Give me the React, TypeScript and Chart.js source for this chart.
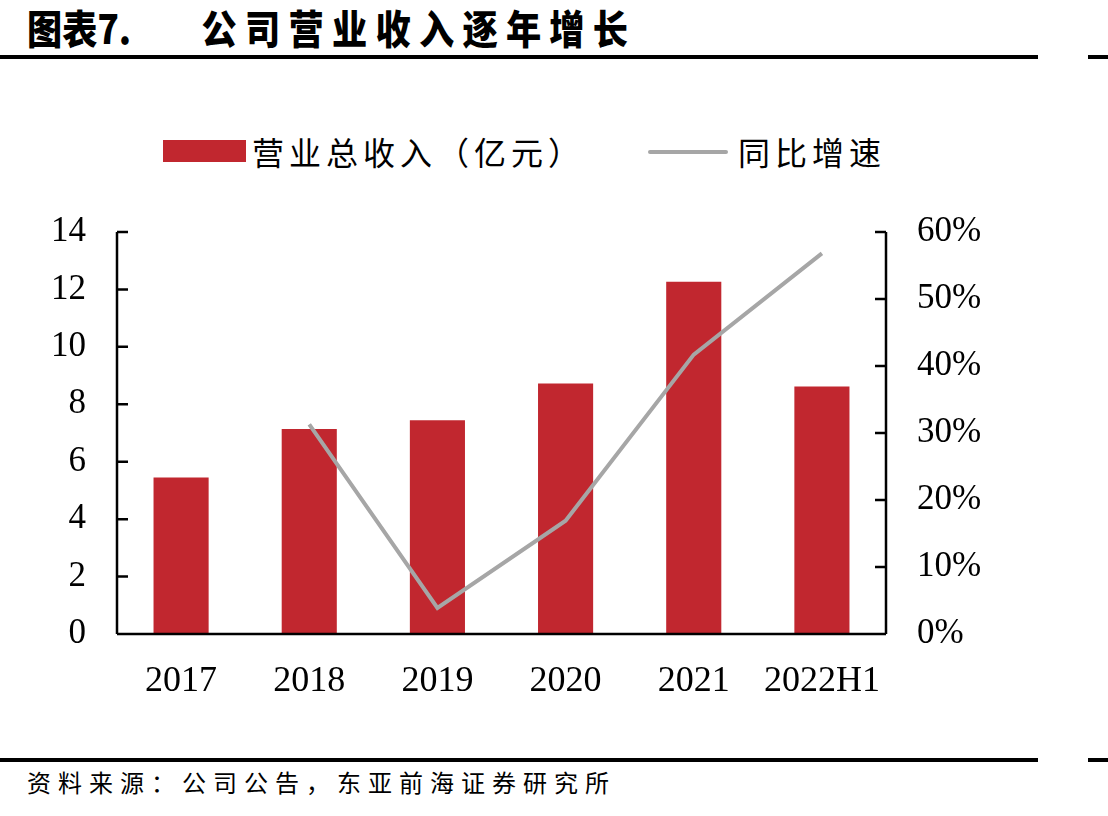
import React, { useEffect, useRef } from "react";
import { Chart, registerables } from "chart.js";

Chart.register(...registerables);

// Revenue (亿元) by period and its year-on-year growth (%)
const categories = ["2017", "2018", "2019", "2020", "2021", "2022H1"];
const revenue = [5.45, 7.14, 7.44, 8.72, 12.27, 8.62];
const growth = [null, 31.3, 3.9, 16.9, 41.7, 56.8];
const leftTicks = [0, 2, 4, 6, 8, 10, 12, 14];
const rightTicks = [0, 10, 20, 30, 40, 50, 60];

const BAR_RED = "#C1272F";
const LINE_GREY = "#A6A6A6";
const SERIF = "'Liberation Serif', 'DejaVu Serif', serif";
const CJK = "'Noto Sans CJK SC', 'Noto Sans', sans-serif";

// Axis lines with short inward ticks, drawn above the bars
const axisPlugin = {
  id: "innerAxes",
  afterDatasetsDraw(chart: any) {
    const { ctx, chartArea } = chart;
    const y = chart.scales.y;
    const y1 = chart.scales.y1;
    const tick = 11;
    ctx.save();
    ctx.strokeStyle = "#000";
    ctx.lineWidth = 2.5;
    ctx.lineCap = "butt";
    ctx.beginPath();
    // left axis
    ctx.moveTo(chartArea.left, chartArea.top);
    ctx.lineTo(chartArea.left, chartArea.bottom);
    // bottom axis
    ctx.moveTo(chartArea.left, chartArea.bottom);
    ctx.lineTo(chartArea.right, chartArea.bottom);
    // right axis
    ctx.moveTo(chartArea.right, chartArea.top);
    ctx.lineTo(chartArea.right, chartArea.bottom);
    leftTicks.forEach((v) => {
      const py = y.getPixelForValue(v);
      ctx.moveTo(chartArea.left, py);
      ctx.lineTo(chartArea.left + tick, py);
    });
    rightTicks.forEach((v) => {
      const py = y1.getPixelForValue(v);
      ctx.moveTo(chartArea.right, py);
      ctx.lineTo(chartArea.right - tick, py);
    });
    ctx.stroke();
    ctx.restore();
  },
};

function RevenueChart() {
  const ref = useRef<HTMLCanvasElement | null>(null);

  useEffect(() => {
    if (!ref.current) return;
    const chart = new Chart(ref.current, {
      data: {
        labels: categories,
        datasets: [
          {
            type: "line",
            label: "同比增速",
            data: growth,
            yAxisID: "y1",
            borderColor: LINE_GREY,
            borderWidth: 4,
            pointRadius: 0,
            tension: 0,
            spanGaps: false,
            order: 0,
          } as any,
          {
            type: "bar",
            label: "营业总收入（亿元）",
            data: revenue,
            yAxisID: "y",
            backgroundColor: BAR_RED,
            borderWidth: 0,
            barPercentage: 0.86,
            categoryPercentage: 0.5,
            order: 1,
          } as any,
        ],
      },
      options: {
        animation: false,
        responsive: false,
        maintainAspectRatio: false,
        layout: { padding: { top: 0, left: 0, right: 0, bottom: 0 } },
        plugins: {
          legend: { display: false },
          tooltip: { enabled: false },
        },
        scales: {
          x: {
            grid: { display: false, drawTicks: false },
            border: { display: false },
            ticks: {
              color: "#000",
              font: { family: SERIF, size: 36 },
              padding: 26,
              maxRotation: 0,
              autoSkip: false,
            },
            afterFit(scale: any) {
              scale.height = 86;
            },
          },
          y: {
            position: "left",
            min: 0,
            max: 14,
            grid: { display: false, drawTicks: false },
            border: { display: false },
            afterBuildTicks(scale: any) {
              scale.ticks = leftTicks.map((v) => ({ value: v }));
            },
            ticks: {
              color: "#000",
              font: { family: SERIF, size: 35 },
              padding: 31,
            },
            afterFit(scale: any) {
              scale.width = 117;
            },
          },
          y1: {
            position: "right",
            min: 0,
            max: 60,
            grid: { display: false, drawTicks: false },
            border: { display: false },
            afterBuildTicks(scale: any) {
              scale.ticks = rightTicks.map((v) => ({ value: v }));
            },
            ticks: {
              color: "#000",
              font: { family: SERIF, size: 35 },
              padding: 31,
              callback: (v: any) => `${v}%`,
            },
            afterFit(scale: any) {
              scale.width = 222;
            },
          },
        },
      } as any,
      plugins: [axisPlugin],
    });
    return () => chart.destroy();
  }, []);

  return (
    <canvas
      ref={ref}
      width={1108}
      height={540}
      style={{ position: "absolute", left: 0, top: 180, width: 1108, height: 540 }}
    />
  );
}

export default function App() {
  return (
    <div
      style={{
        position: "absolute",
        left: 0,
        top: 0,
        width: 1108,
        height: 816,
        background: "#fff",
        overflow: "hidden",
      }}
    >
      {/* Title */}
      <div
        style={{
          position: "absolute",
          left: 27,
          top: 2,
          fontFamily: CJK,
          fontWeight: 900,
          fontSize: 40,
          lineHeight: "50px",
          color: "#000",
          whiteSpace: "pre",
          transform: "scaleX(0.88)",
          transformOrigin: "left center",
        }}
      >
        <span>图表7.</span>
        <span style={{ marginLeft: 80, letterSpacing: 9.4 }}>公司营业收入逐年增长</span>
      </div>
      <div style={{ position: "absolute", left: 0, top: 55, width: 1038, height: 4, background: "#000" }} />
      <div style={{ position: "absolute", left: 1088, top: 55, width: 20, height: 4, background: "#000" }} />

      {/* Legend */}
      <div style={{ position: "absolute", left: 163, top: 140, width: 83, height: 22, background: BAR_RED }} />
      <div
        style={{
          position: "absolute",
          left: 252,
          top: 131,
          fontFamily: CJK,
          fontSize: 32,
          lineHeight: "40px",
          letterSpacing: 5,
          color: "#000",
          whiteSpace: "pre",
        }}
      >
        营业总收入（亿元）
      </div>
      <div
        style={{
          position: "absolute",
          left: 648,
          top: 150,
          width: 80,
          height: 4,
          borderRadius: 2,
          background: LINE_GREY,
        }}
      />
      <div
        style={{
          position: "absolute",
          left: 738,
          top: 131,
          fontFamily: CJK,
          fontSize: 32,
          lineHeight: "40px",
          letterSpacing: 5,
          color: "#000",
          whiteSpace: "pre",
        }}
      >
        同比增速
      </div>

      <RevenueChart />

      {/* Source note */}
      <div style={{ position: "absolute", left: 0, top: 758, width: 1038, height: 3.5, background: "#000" }} />
      <div style={{ position: "absolute", left: 1088, top: 758, width: 20, height: 3.5, background: "#000" }} />
      <div
        style={{
          position: "absolute",
          left: 27,
          top: 766,
          fontFamily: CJK,
          fontSize: 24,
          lineHeight: "32px",
          letterSpacing: 7,
          color: "#000",
          whiteSpace: "pre",
        }}
      >
        资料来源：公司公告，东亚前海证券研究所
      </div>
    </div>
  );
}
